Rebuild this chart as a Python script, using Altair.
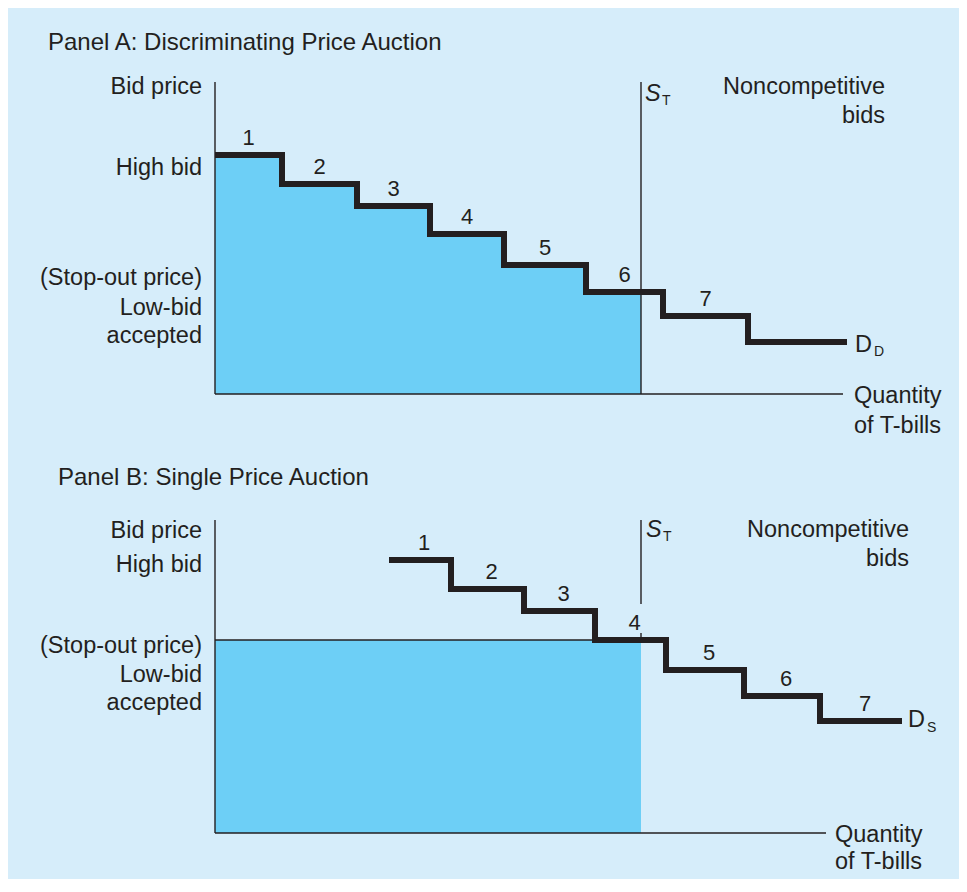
import altair as alt
import pandas as pd

# ---------------- data ----------------
# Panel A: discriminating price auction (quantity edges of each bid block, bid price of each block)
a_edges = [0, 6.7, 14.2, 21.5, 28.9, 37.1, 44.8, 53.3, 63.2]
a_prices = [23.9, 21.0, 18.8, 16.0, 12.9, 10.2, 7.8, 5.2]
a_labels = ["1", "2", "3", "4", "5", "6", "7", ""]
a_supply = 42.6

# Panel B: single price auction
b_edges = [17.4, 23.6, 30.9, 38.0, 45.1, 52.9, 60.5, 68.7]
b_prices = [27.3, 24.4, 22.2, 19.3, 16.3, 13.7, 11.2]
b_labels = ["1", "2", "3", "4", "5", "6", "7"]
b_supply = 42.6
b_stopout = 19.3

# axis extents (quantity max, price max)
a_axis = (62.8, 31.2)
b_axis = (61.1, 31.3)

# ---------------- style ----------------
DARK = "#231f20"
FILL = "#6dcff6"
BG = "#d6edfa"
FONT = "Liberation Sans"
FS = 23.5
W = 951
XDOM = [-20.7, 74.4]


def xs():
    return alt.Scale(domain=XDOM, nice=False, zero=False)


def panel(edges, prices, labels, supply, axis, ydom, height, texts, stopout=None, st_segments=None, lab_dx=0):
    ys = alt.Scale(domain=ydom, nice=False, zero=False)
    X = lambda f: alt.X(f, type="quantitative", scale=xs(), axis=None)
    Y = lambda f: alt.Y(f, type="quantitative", scale=ys, axis=None)

    layers = []

    # shaded area (revenue)
    if stopout is None:
        qa = [q for q in edges if q < supply]
        fill_df = pd.DataFrame({
            "q": qa + [supply],
            "p": prices[:len(qa)] + [prices[len(qa) - 1]],
            "base": 0.0,
        })
        layers.append(
            alt.Chart(fill_df).mark_area(interpolate="step-after", color=FILL, opacity=1)
            .encode(x=X("q"), y=Y("p"), y2=alt.Y2("base"))
        )
    else:
        rect_df = pd.DataFrame({"q": [0.0], "q2": [supply], "p": [0.0], "p2": [stopout]})
        layers.append(
            alt.Chart(rect_df).mark_rect(color=FILL, opacity=1)
            .encode(x=X("q"), x2=alt.X2("q2"), y=Y("p"), y2=alt.Y2("p2"))
        )
        layers.append(
            alt.Chart(rect_df).mark_rule(color=DARK, strokeWidth=1.3)
            .encode(x=X("q"), x2=alt.X2("q2"), y=Y("p2"))
        )

    # axes
    ax_df = pd.DataFrame({"q": [0.0], "q2": [axis[0]], "p": [0.0], "p2": [axis[1]]})
    layers.append(
        alt.Chart(ax_df).mark_rule(color=DARK, strokeWidth=1.4)
        .encode(x=X("q"), x2=alt.X2("q2"), y=Y("p"))
    )
    layers.append(
        alt.Chart(ax_df).mark_rule(color=DARK, strokeWidth=1.4)
        .encode(x=X("q"), y=Y("p"), y2=alt.Y2("p2"))
    )

    # supply line S_T
    segs = st_segments if st_segments else [(0.0, axis[1])]
    st_df = pd.DataFrame({"q": [supply] * len(segs), "p": [s[0] for s in segs], "p2": [s[1] for s in segs]})
    layers.append(
        alt.Chart(st_df).mark_rule(color=DARK, strokeWidth=1.4)
        .encode(x=X("q"), y=Y("p"), y2=alt.Y2("p2"))
    )

    # demand step line
    step_df = pd.DataFrame({"q": edges, "p": prices + [prices[-1]]})
    layers.append(
        alt.Chart(step_df).mark_line(interpolate="step-after", color=DARK, strokeWidth=6,
                                     strokeCap="butt", strokeJoin="miter")
        .encode(x=X("q"), y=Y("p"))
    )

    # bid numbers
    lab_df = pd.DataFrame({
        "q": [(edges[i] + edges[i + 1]) / 2 for i in range(len(prices))],
        "p": prices,
        "t": labels,
    })
    layers.append(
        alt.Chart(lab_df).mark_text(font=FONT, fontSize=22, color=DARK, baseline="alphabetic",
                                    align="center", dy=-10, dx=lab_dx)
        .encode(x=X("q"), y=Y("p"), text="t:N")
    )

    # annotation texts grouped by style
    for (align, size, style), grp in texts.groupby(["align", "size", "style"]):
        layers.append(
            alt.Chart(grp).mark_text(font=FONT, fontSize=size, color=DARK, baseline="alphabetic",
                                     align=align, fontStyle=style)
            .encode(x=X("q"), y=Y("p"), text="t:N")
        )

    return alt.layer(*layers).properties(width=W, height=height)


def tt(rows):
    return pd.DataFrame(rows, columns=["t", "q", "p", "align", "size", "style"])


texts_a = tt([
    ["Panel A: Discriminating Price Auction", -16.7, 34.4, "left", 24, "normal"],
    ["Bid price", -1.3, 30.0, "right", FS, "normal"],
    ["High bid", -1.3, 21.9, "right", FS, "normal"],
    ["(Stop-out price)", -1.3, 10.9, "right", FS, "normal"],
    ["Low-bid", -1.3, 7.9, "right", FS, "normal"],
    ["accepted", -1.3, 5.1, "right", FS, "normal"],
    ["Noncompetitive", 67.0, 30.0, "right", FS, "normal"],
    ["bids", 67.0, 27.1, "right", FS, "normal"],
    ["S", 43.0, 29.3, "left", FS, "italic"],
    ["T", 44.7, 28.9, "left", 14, "normal"],
    ["D", 64.0, 4.2, "left", FS, "normal"],
    ["D", 65.9, 3.8, "left", 14, "normal"],
    ["Quantity", 63.9, -0.9, "left", FS, "normal"],
    ["of T-bills", 63.9, -3.9, "left", FS, "normal"],
])

texts_b = tt([
    ["Panel B: Single Price Auction", -15.7, 34.8, "left", 24, "normal"],
    ["Bid price", -1.3, 29.5, "right", FS, "normal"],
    ["High bid", -1.3, 26.1, "right", FS, "normal"],
    ["(Stop-out price)", -1.3, 18.0, "right", FS, "normal"],
    ["Low-bid", -1.3, 15.1, "right", FS, "normal"],
    ["accepted", -1.3, 12.3, "right", FS, "normal"],
    ["Noncompetitive", 69.4, 29.6, "right", FS, "normal"],
    ["bids", 69.4, 26.7, "right", FS, "normal"],
    ["S", 43.1, 29.6, "left", FS, "italic"],
    ["T", 44.8, 29.2, "left", 14, "normal"],
    ["D", 69.3, 10.6, "left", FS, "normal"],
    ["S", 71.2, 10.1, "left", 14, "normal"],
    ["Quantity", 62.0, -0.9, "left", FS, "normal"],
    ["of T-bills", 62.0, -3.6, "left", FS, "normal"],
])

panel_a = panel(a_edges, a_prices, a_labels, a_supply, a_axis, [-4.9, 38.6], 435, texts_a)
panel_b = panel(b_edges, b_prices, b_labels, b_supply, b_axis, [-4.6, 39.0], 436, texts_b,
                stopout=b_stopout, st_segments=[(22.9, 31.3), (b_stopout, 20.0)], lab_dx=4)

chart = alt.vconcat(panel_a, panel_b, spacing=0).properties(
    padding=0, background=BG
).configure_view(stroke=None)

chart.save("out.html", embed_options={"renderer": "svg", "actions": False})
